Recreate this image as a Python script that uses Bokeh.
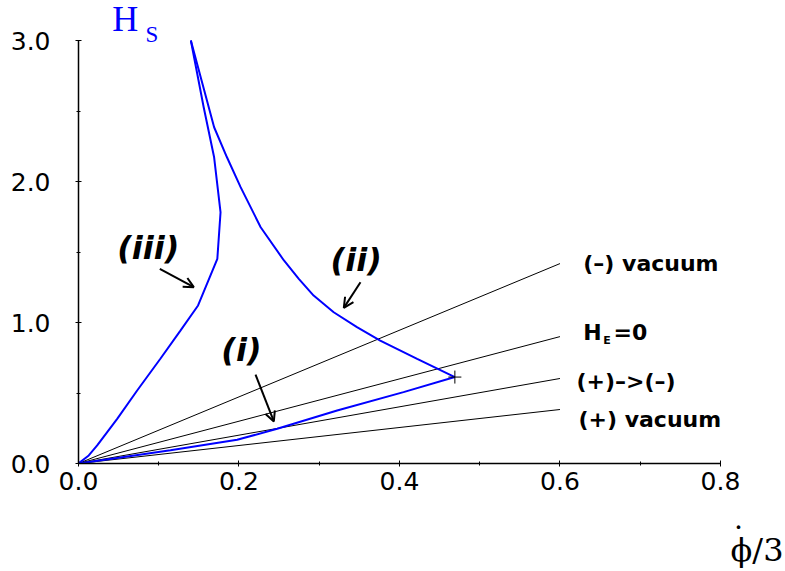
from bokeh.plotting import figure
from bokeh.models import Range1d, FixedTicker, NumeralTickFormatter, Label, Arrow, OpenHead, Title
from bokeh.embed import file_html
from bokeh.resources import INLINE

# ---- data ----
x_ticks = [0.0, 0.2, 0.4, 0.6, 0.8]
x_minor = [0.1, 0.3, 0.5, 0.7]
y_ticks = [0.0, 1.0, 2.0, 3.0]
y_minor = [0.5, 1.5, 2.5]

# reference straight lines from the origin to x = 0.6
ray_names = ["(\u2013) vacuum", "H_E=0", "(+)\u2013>(\u2013)", "(+) vacuum"]
ray_x_end = [0.6, 0.6, 0.6, 0.6]
ray_y_end = [1.418, 0.90, 0.603, 0.383]

# branch (i)
i_x = [0.0, 0.0523, 0.1146, 0.1977, 0.2476, 0.3223, 0.405, 0.469]
i_y = [0.0, 0.042, 0.094, 0.168, 0.246, 0.376, 0.506, 0.613]
# branch (ii)
ii_x = [0.469, 0.422, 0.376, 0.347, 0.318, 0.293, 0.2745, 0.256, 0.227, 0.202, 0.185, 0.169, 0.140]
ii_y = [0.613, 0.742, 0.872, 0.967, 1.073, 1.191, 1.31, 1.44, 1.676, 1.96, 2.172, 2.385, 3.0]
# branch (iii)
iii_x = [0.0, 0.0128, 0.0233, 0.0482, 0.0731, 0.102, 0.127, 0.149, 0.173, 0.177, 0.169, 0.156, 0.140]
iii_y = [0.0, 0.057, 0.128, 0.317, 0.518, 0.743, 0.943, 1.121, 1.452, 1.782, 2.172, 2.527, 3.0]

cross_x = [0.469]
cross_y = [0.613]

# branch labels and arrows
branch_labels = ["(i)", "(ii)", "(iii)"]
branch_lx = [0.203, 0.346, 0.087]
branch_ly = [0.803, 1.441, 1.526]
arrow_xs = [0.2206, 0.3514, 0.1013]
arrow_ys = [0.631, 1.286, 1.381]
arrow_xe = [0.2434, 0.3306, 0.1437]
arrow_ye = [0.298, 1.104, 1.251]

x_axis_end = 0.8
y_axis_end = 3.0

p = figure(width=785, height=571, output_backend="svg", toolbar_location=None,
           x_range=Range1d(0, 0.881), y_range=Range1d(0, 3.284),
           min_border_left=78, min_border_right=0, min_border_top=0, min_border_bottom=108)
p.outline_line_color = None
p.grid.visible = False
p.background_fill_color = "white"
p.border_fill_color = "white"

for ax in (p.xaxis[0], p.yaxis[0]):
    ax.axis_line_color = "black"
    ax.axis_line_width = 1.5
    ax.major_tick_line_color = "black"
    ax.minor_tick_line_color = "black"
    ax.major_tick_in = 3
    ax.major_tick_out = 3
    ax.minor_tick_in = 2
    ax.minor_tick_out = 2
    ax.major_label_text_font = "DejaVu Sans"
    ax.major_label_text_font_size = "25px"
    ax.major_label_text_color = "black"
    ax.formatter = NumeralTickFormatter(format="0.0")

p.xaxis[0].ticker = FixedTicker(ticks=x_ticks, minor_ticks=x_minor)
p.yaxis[0].ticker = FixedTicker(ticks=y_ticks, minor_ticks=y_minor)
p.xaxis[0].bounds = (0, x_axis_end)
p.yaxis[0].bounds = (0, y_axis_end)
p.xaxis[0].major_label_standoff = 5
p.yaxis[0].major_label_standoff = 25

# rays
p.multi_line(xs=[[0, xe] for xe in ray_x_end], ys=[[0, ye] for ye in ray_y_end],
             line_color="black", line_width=1)

# blue branches
for bx, by in ((i_x, i_y), (ii_x, ii_y), (iii_x, iii_y)):
    p.line(bx, by, line_color="#0000ff", line_width=2)

p.scatter(cross_x, cross_y, marker="cross", size=13, line_color="black", line_width=1)

# arrows
for xs, ys, xe, ye in zip(arrow_xs, arrow_ys, arrow_xe, arrow_ye):
    p.add_layout(Arrow(end=OpenHead(size=10, line_width=2, line_color="black"),
                       x_start=xs, y_start=ys, x_end=xe, y_end=ye,
                       line_width=2, line_color="black"))

# branch labels
for t, lx, ly in zip(branch_labels, branch_lx, branch_ly):
    p.add_layout(Label(x=lx, y=ly, text=t, text_font="DejaVu Sans", text_font_style="bold italic",
                       text_font_size="32px", text_align="center", text_baseline="alphabetic",
                       text_color="black"))

# ray labels
lab_font = dict(text_font="DejaVu Sans", text_font_style="bold", text_color="black",
                text_baseline="alphabetic", text_align="left")
p.add_layout(Label(x=0.629, y=1.422, text=ray_names[0], text_font_size="22px", **lab_font))
p.add_layout(Label(x=0.629, y=0.929, text="H", text_font_size="22px", **lab_font))
p.add_layout(Label(x=0.654, y=0.872, text="E", text_font_size="11px", **lab_font))
p.add_layout(Label(x=0.6667, y=0.929, text="=0", text_font_size="22px", **lab_font))
p.add_layout(Label(x=0.6206, y=0.585, text=ray_names[2], text_font_size="22px", **lab_font))
p.add_layout(Label(x=0.623, y=0.311, text=ray_names[3], text_font_size="22px", **lab_font))

# y title H_S (blue, serif)
p.add_layout(Label(x=0.042, y=3.155, text="H", text_font="Liberation Serif", text_font_size="36px",
                   text_color="#0000ff", text_baseline="alphabetic"))
p.add_layout(Label(x=0.0835, y=3.04, text="S", text_font="Liberation Serif", text_font_size="23px",
                   text_color="#0000ff", text_baseline="alphabetic"))

# x title: dot line above "phi/3" (tight line height so the dot sits just over phi)
x_title_lines = ["\u00a0", "\u00a0", "\u02d9\u2007\u2009\u2009", "\u03d5/3"]
xt = Title(text="\n".join(x_title_lines), align="right", offset=2, standoff=5,
           text_font="DejaVu Serif", text_font_size="32px", text_font_style="normal",
           text_color="black", text_line_height=0.3)
p.add_layout(xt, "below")

open("out.html", "w").write(file_html(p, INLINE))
